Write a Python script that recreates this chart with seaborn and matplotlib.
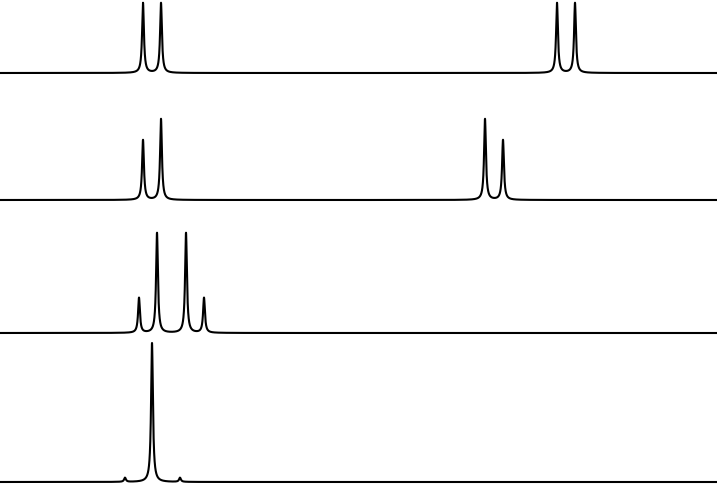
import numpy as np
import pandas as pd
import matplotlib
matplotlib.use('Agg')
import matplotlib.pyplot as plt
import seaborn as sns

sns.set_style('white')

# peak lists per spectrum (position in Hz, relative intensity)
pos_ax = [143, 161, 557, 575]
int_ax = [1.0, 1.0, 1.0, 1.0]
pos_ab1 = [143, 161, 485, 503]
int_ab1 = [0.74, 1.0, 1.0, 0.74]
pos_ab2 = [139, 157, 186, 204]
int_ab2 = [0.35, 1.0, 1.0, 0.35]
pos_ab3 = [125, 152, 180]
int_ab3 = [0.03, 1.0, 0.03]

spectra = [(pos_ax, int_ax), (pos_ab1, int_ab1), (pos_ab2, int_ab2), (pos_ab3, int_ab3)]
# baseline / top of tallest peak in pixels
baselines = [73, 200, 333, 482]
tops = [3, 119, 233, 343]
half_width = 1.1
x_range = (0, 717)

W, H = 717, 488
fig = plt.figure(figsize=(W / 100, H / 100), dpi=100)

freq = np.linspace(x_range[0], x_range[1], 20000)
for (pos, inten), b, t in zip(spectra, baselines, tops):
    ax = fig.add_axes([0, (H - b) / H, 1, (b - t) / H])
    y = np.zeros_like(freq)
    for p, a in zip(pos, inten):
        y += a * half_width ** 2 / ((freq - p) ** 2 + half_width ** 2)
    df = pd.DataFrame({'freq': freq, 'intensity': y})
    sns.lineplot(data=df, x='freq', y='intensity', ax=ax, color='black', lw=1.5)
    for line in ax.lines:
        line.set_clip_on(False)
    ax.set_xlim(*x_range)
    ax.set_ylim(0, max(inten))
    ax.axis('off')

fig.savefig('out.png', dpi=100)
